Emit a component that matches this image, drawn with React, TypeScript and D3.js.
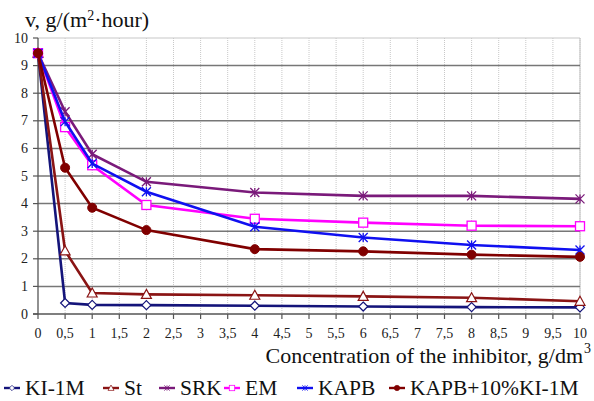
import React from "react";
import * as d3 from "d3";

// inhibitor concentration, g/dm3
const conc = [0, 0.5, 1, 2, 4, 6, 8, 10];
const ki1m = [9.45, 0.4, 0.33, 0.32, 0.3, 0.27, 0.25, 0.24];
const st = [9.45, 2.29, 0.76, 0.71, 0.68, 0.64, 0.59, 0.46];
const srk = [9.45, 7.33, 5.79, 4.79, 4.4, 4.28, 4.28, 4.17];
const em = [9.45, 6.77, 5.39, 3.95, 3.45, 3.31, 3.2, 3.18];
const kapb = [9.45, 6.97, 5.45, 4.43, 3.16, 2.77, 2.5, 2.32];
const kapbKi = [9.45, 5.3, 3.85, 3.04, 2.35, 2.27, 2.15, 2.07];

const seriesNames = ["KI-1M", "St", "SRK", "EM", "KAPB", "KAPB+10%KI-1M"];
const seriesValues = [ki1m, st, srk, em, kapb, kapbKi];
const seriesColors = ["#14147a", "#8a1414", "#7a1a7a", "#ff00ff", "#1010f0", "#800000"];
const seriesMarkers = ["diamond", "triangle", "star", "square", "star", "circle"];

const xTicks = d3.range(0, 10.001, 0.5);
const yTicks = d3.range(0, 11, 1);

const W = 594;
const H = 401;
const serif = { fontFamily: '"Liberation Serif"' };

const x = d3.scaleLinear().domain([0, 10]).range([38, 580]);
const y = d3.scaleLinear().domain([0, 10]).range([314, 38]);

function Marker({ type, cx, cy, color }: { type: string; cx: number; cy: number; color: string }) {
  if (type === "circle") return <circle cx={cx} cy={cy} r={4.5} fill={color} stroke={color} strokeWidth={1} />;
  if (type === "square")
    return <rect x={cx - 4.5} y={cy - 4.5} width={9} height={9} fill="#fff" stroke={color} strokeWidth={1.3} />;
  if (type === "diamond") {
    const s = 4.5;
    return (
      <path d={`M${cx},${cy - s}L${cx + s},${cy}L${cx},${cy + s}L${cx - s},${cy}Z`} fill="#fff" stroke={color} strokeWidth={1.2} />
    );
  }
  if (type === "triangle") {
    const s = 5;
    return (
      <path d={`M${cx},${cy - s}L${cx + s},${cy + s * 0.8}L${cx - s},${cy + s * 0.8}Z`} fill="#fff" stroke={color} strokeWidth={1.2} />
    );
  }
  const s = 4.5;
  return (
    <path
      d={`M${cx - s},${cy - s}L${cx + s},${cy + s}M${cx - s},${cy + s}L${cx + s},${cy - s}M${cx},${cy - s}L${cx},${cy + s}`}
      stroke={color}
      strokeWidth={1.3}
      fill="none"
    />
  );
}

// legend text starts
const legendTextX = [25, 124, 180, 245, 318, 410];

export default function App() {
  const line = d3
    .line<number>()
    .x((_, i) => x(conc[i]))
    .y((d) => y(d));
  const fmt = (v: number) => String(v).replace(".", ",");

  return (
    <svg width={W} height={H} style={{ position: "absolute", left: 0, top: 0, background: "#fff" }}>
      {/* vertical dotted grid */}
      {xTicks.slice(1).map((t) => (
        <line key={"vx" + t} x1={x(t)} x2={x(t)} y1={y(10)} y2={y(0)} stroke="#c8c8c8" strokeWidth={1} strokeDasharray="1,1" />
      ))}
      <line x1={x(10)} x2={x(10)} y1={y(10)} y2={y(0)} stroke="#c8c8c8" strokeWidth={1.2} />
      {/* horizontal grid */}
      {yTicks.slice(1).map((t) => (
        <line key={"hy" + t} x1={x(0)} x2={x(10)} y1={y(t)} y2={y(t)} stroke={t === 10 ? "#c8c8c8" : "#777"} strokeWidth={t === 10 ? 1.2 : 1.5} />
      ))}
      {/* axes */}
      <line x1={x(0)} x2={x(0)} y1={y(10)} y2={y(0)} stroke="#555" strokeWidth={1.3} />
      <line x1={x(0) - 5} x2={x(10)} y1={y(0)} y2={y(0)} stroke="#555" strokeWidth={1.3} />
      {yTicks.map((t) => (
        <g key={"yt" + t}>
          <line x1={x(0) - 5} x2={x(0)} y1={y(t)} y2={y(t)} stroke="#555" strokeWidth={1.2} />
          <text x={28} y={y(t) + 4.5} textAnchor="end" fontSize={14} fill="#222" style={serif}>
            {t}
          </text>
        </g>
      ))}
      {xTicks.map((t) => (
        <g key={"xt" + t}>
          <line x1={x(t)} x2={x(t)} y1={y(0)} y2={y(0) + 5} stroke="#555" strokeWidth={1.2} />
          <text x={x(t)} y={338} textAnchor="middle" fontSize={14} fill="#222" style={serif}>
            {fmt(t)}
          </text>
        </g>
      ))}
      {/* series */}
      {seriesValues.map((vals, si) => (
        <g key={"s" + si}>
          <path d={line(vals) || ""} fill="none" stroke={seriesColors[si]} strokeWidth={2.6} />
          {vals.map((v, i) => (
            <Marker key={i} type={seriesMarkers[si]} cx={x(conc[i])} cy={y(v)} color={seriesColors[si]} />
          ))}
        </g>
      ))}
      {/* titles */}
      <text x={25} y={27} fontSize={22} fill="#111" style={serif}>
        v, g/(m<tspan dy={-7} fontSize={14}>2</tspan>
        <tspan dy={7}>·hour)</tspan>
      </text>
      <text x={583} y={363} textAnchor="end" fontSize={22} fill="#111" style={serif}>
        Concentration of the inhibitor, g/dm
      </text>
      <text x={584} y={353} fontSize={14} fill="#111" style={serif}>
        3
      </text>
      {/* legend */}
      {seriesNames.map((n, i) => {
        const mx = legendTextX[i] - 13;
        return (
          <g key={"lg" + i}>
            <line x1={mx - 8} x2={mx + 8} y1={388} y2={388} stroke={seriesColors[i]} strokeWidth={2.4} />
            <g transform={`translate(${mx},388) scale(0.6) translate(${-mx},-388)`}>
              <Marker type={seriesMarkers[i]} cx={mx} cy={388} color={seriesColors[i]} />
            </g>
            <text x={legendTextX[i]} y={395} fontSize={21.5} fill="#111" style={serif}>
              {n}
            </text>
          </g>
        );
      })}
    </svg>
  );
}
